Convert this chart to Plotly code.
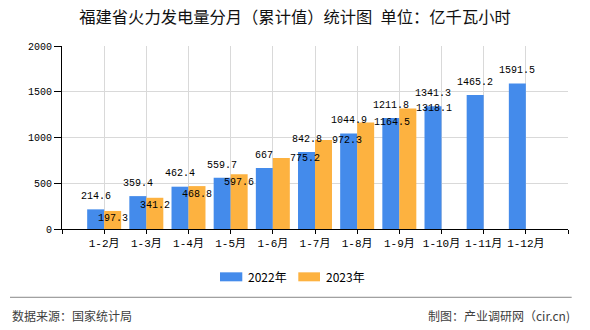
import plotly.graph_objects as go

# ---------------- data ----------------
categories = ['1-2月', '1-3月', '1-4月', '1-5月', '1-6月', '1-7月',
              '1-8月', '1-9月', '1-10月', '1-11月', '1-12月']
values_2022 = [214.6, 359.4, 462.4, 559.7, 667, 842.8, 1044.9, 1211.8, 1341.3, 1465.2, 1591.5]
values_2023 = [197.3, 341.2, 468.8, 597.6, 775.2, 972.3, 1164.5, 1318.1]
series_names = ['2022年', '2023年']
y_tick_values = [0, 500, 1000, 1500, 2000]
title_text = '福建省火力发电量分月（累计值）统计图\u2002单位：亿千瓦小时'
source_text = '数据来源：国家统计局'
maker_text = '制图：产业调研网（cir.cn)'

# ---------------- style ----------------
W, H = 590, 330
L, R, T, B = 62, 22, 46, 100.7
BLUE = '#448BEB'
ORANGE = '#FDB240'
GRID = '#D9D9D9'
BARGAP = 0.194
HALF = (1 - BARGAP) / 4          # centre offset of each bar in a group
LABEL_FONT = dict(family='Liberation Mono, Noto Sans CJK SC', size=10, color='#000000')
CJK = 'Noto Sans CJK SC'
# how each 2023 label is placed: 'in' = inside under the top, 'right' = beside the bar top
orange_label_mode = ['in', 'in', 'in', 'in', 'right', 'right', 'right', 'right']

pw, ph = W - L - R, H - T - B


def px_x(px):
    return (px - L) / pw


def px_y(py):
    return (H - B - py) / ph


idx = list(range(len(categories)))

fig = go.Figure()
fig.add_trace(go.Bar(x=idx, y=values_2022, name=series_names[0],
                     marker=dict(color=BLUE, line=dict(width=0)), showlegend=False))
fig.add_trace(go.Bar(x=idx[:len(values_2023)], y=values_2023, name=series_names[1],
                     marker=dict(color=ORANGE, line=dict(width=0)), showlegend=False))

annotations = []
for i, v in enumerate(values_2022):
    annotations.append(dict(x=i - HALF, y=v, xref='x', yref='y', text=str(v),
                            showarrow=False, xanchor='center', yanchor='middle',
                            yshift=12.7, font=LABEL_FONT))
for i, v in enumerate(values_2023):
    if orange_label_mode[i] == 'in':
        annotations.append(dict(x=i + HALF, y=v, xref='x', yref='y', text=str(v),
                                showarrow=False, xanchor='center', yanchor='middle',
                                yshift=-8, font=LABEL_FONT))
    else:
        annotations.append(dict(x=i + 2 * HALF, y=v, xref='x', yref='y', text=str(v),
                                showarrow=False, xanchor='left', yanchor='middle',
                                xshift=-2, yshift=0, font=LABEL_FONT))

# manual legend
shapes = []
legend_items = [(220, 242.3, 246.7, BLUE, series_names[0]),
                (298.3, 320, 324.7, ORANGE, series_names[1])]
for x0, x1, tx, col, name in legend_items:
    shapes.append(dict(type='rect', xref='paper', yref='paper',
                       x0=px_x(x0), x1=px_x(x1), y0=px_y(281.7), y1=px_y(272.7),
                       fillcolor=col, line=dict(width=0)))
    annotations.append(dict(x=px_x(tx), y=px_y(277.2), xref='paper', yref='paper',
                            text=name, showarrow=False, xanchor='left', yanchor='middle',
                            font=dict(family=CJK, size=12, color='#000000'), borderpad=0))

# footer
shapes.append(dict(type='line', xref='paper', yref='paper',
                   x0=px_x(10), x1=px_x(571.7), y0=px_y(297.7), y1=px_y(297.7),
                   line=dict(color='#888888', width=1)))
annotations.append(dict(x=px_x(11), y=px_y(316), xref='paper', yref='paper',
                        text=source_text, showarrow=False, xanchor='left', yanchor='middle',
                        font=dict(family=CJK, size=12, color='#404040'), borderpad=0))
annotations.append(dict(x=px_x(571), y=px_y(316), xref='paper', yref='paper',
                        text=maker_text, showarrow=False, xanchor='right', yanchor='middle',
                        font=dict(family=CJK, size=12, color='#404040'), borderpad=0))

fig.update_layout(
    width=W, height=H,
    margin=dict(l=L, r=R, t=T, b=B, pad=0),
    paper_bgcolor='white', plot_bgcolor='white',
    barmode='group', bargap=BARGAP, bargroupgap=0,
    title=dict(text=title_text, x=0.5, xref='container', xanchor='center',
               y=1 - 17 / H, yref='container', yanchor='middle',
               font=dict(family=CJK, size=16.3, color='#111111')),
    xaxis=dict(range=[-1, len(categories)],
               tickmode='array', tickvals=list(range(-1, len(categories) + 1)),
               ticktext=[''] + categories + [''],
               showgrid=True, gridcolor=GRID, gridwidth=1,
               showline=True, linecolor='#000000', linewidth=1,
               ticks='outside', ticklen=4, tickcolor='#000000',
               tickfont=dict(family='Liberation Mono, Noto Sans CJK SC', size=11, color='#000000'),
               zeroline=False, fixedrange=True),
    yaxis=dict(range=[0, 2000], tickmode='array', tickvals=y_tick_values,
               showgrid=True, gridcolor=GRID, gridwidth=1,
               showline=True, linecolor='#000000', linewidth=1,
               ticks='outside', ticklen=7, tickcolor='#000000',
               tickfont=dict(family='Liberation Mono', size=10, color='#000000'),
               zeroline=False, fixedrange=True),
    shapes=shapes,
    annotations=annotations,
    showlegend=False,
)

fig.write_html('out.html')
